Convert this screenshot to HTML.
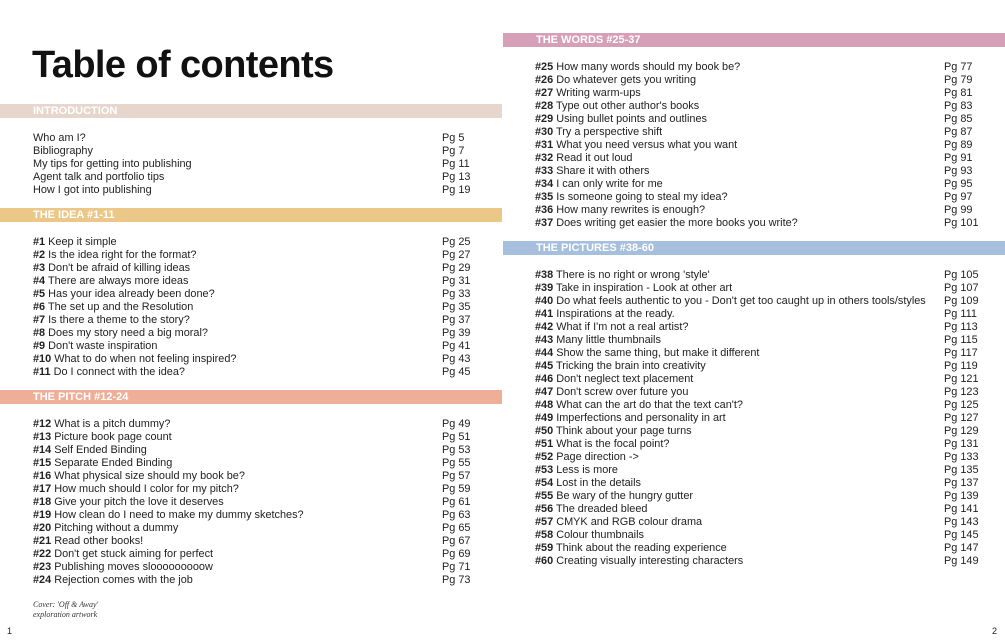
<!DOCTYPE html>
<html><head><meta charset="utf-8"><style>
body{margin:0;width:1005px;height:642px;background:#fff;position:relative;overflow:hidden;font-family:"Liberation Sans",sans-serif;color:#222}
.bar{position:absolute;height:14px;color:#fff;font-weight:bold;font-size:11px;line-height:15px;padding-left:33px;box-sizing:border-box}
.list{position:absolute;font-size:10.9px;line-height:13px;margin:0;padding:0;list-style:none}
.list li{position:relative;white-space:nowrap}
.list li span.pg{position:absolute}
h1{position:absolute;left:32px;top:41px;margin:0;font-size:38px;font-weight:bold;line-height:48px;color:#111;letter-spacing:-0.6px}
b{font-weight:bold}
</style></head><body>
<h1>Table of contents</h1>
<div class="bar" style="left:0;top:104px;width:502px;background:#e6d6cc">INTRODUCTION</div>
<div class="bar" style="left:0;top:208px;width:502px;background:#ebc887">THE IDEA #1-11</div>
<div class="bar" style="left:0;top:390px;width:502px;background:#efae98">THE PITCH #12-24</div>
<div class="bar" style="left:503px;top:33px;width:502px;background:#d59fb8">THE WORDS #25-37</div>
<div class="bar" style="left:503px;top:241px;width:502px;background:#a6bfdc">THE PICTURES #38-60</div>

<div id="c"></div>
<div style="position:absolute;left:33px;top:600px;font-family:'Liberation Serif',serif;font-style:italic;font-size:8px;line-height:10px;color:#333">Cover: 'Off &amp; Away'<br>exploration artwork</div>
<div style="position:absolute;left:7px;top:626px;font-size:9px">1</div>
<div style="position:absolute;left:992px;top:626px;font-size:9px">2</div>
<script>
const sections=[
 {x:33,pgx:409,y:132,items:[["","Who am I?",5],["","Bibliography",7],["","My tips for getting into publishing",11],["","Agent talk and portfolio tips",13],["","How I got into publishing",19]]},
 {x:33,pgx:409,y:236,items:[["#1","Keep it simple",25],["#2","Is the idea right for the format?",27],["#3","Don't be afraid of killing ideas",29],["#4","There are always more ideas",31],["#5","Has your idea already been done?",33],["#6","The set up and the Resolution",35],["#7","Is there a theme to the story?",37],["#8","Does my story need a big moral?",39],["#9","Don't waste inspiration",41],["#10","What to do when not feeling inspired?",43],["#11","Do I connect with the idea?",45]]},
 {x:33,pgx:409,y:418,items:[["#12","What is a pitch dummy?",49],["#13","Picture book page count",51],["#14","Self Ended Binding",53],["#15","Separate Ended Binding",55],["#16","What physical size should my book be?",57],["#17","How much should I color for my pitch?",59],["#18","Give your pitch the love it deserves",61],["#19","How clean do I need to make my dummy sketches?",63],["#20","Pitching without a dummy",65],["#21","Read other books!",67],["#22","Don't get stuck aiming for perfect",69],["#23","Publishing moves slooooooooow",71],["#24","Rejection comes with the job",73]]},
 {x:535,pgx:409,y:61,items:[["#25","How many words should my book be?",77],["#26","Do whatever gets you writing",79],["#27","Writing warm-ups",81],["#28","Type out other author's books",83],["#29","Using bullet points and outlines",85],["#30","Try a perspective shift",87],["#31","What you need versus what you want",89],["#32","Read it out loud",91],["#33","Share it with others",93],["#34","I can only write for me",95],["#35","Is someone going to steal my idea?",97],["#36","How many rewrites is enough?",99],["#37","Does writing get easier the more books you write?",101]]},
 {x:535,pgx:409,y:269,items:[["#38","There is no right or wrong 'style'",105],["#39","Take in inspiration - Look at other art",107],["#40","Do what feels authentic to you - Don't get too caught up in others tools/styles",109],["#41","Inspirations at the ready.",111],["#42","What if I'm not a real artist?",113],["#43","Many little thumbnails",115],["#44","Show the same thing, but make it different",117],["#45","Tricking the brain into creativity",119],["#46","Don't neglect text placement",121],["#47","Don't screw over future you",123],["#48","What can the art do that the text can't?",125],["#49","Imperfections and personality in art",127],["#50","Think about your page turns",129],["#51","What is the focal point?",131],["#52","Page direction ->",133],["#53","Less is more",135],["#54","Lost in the details",137],["#55","Be wary of the hungry gutter",139],["#56","The dreaded bleed",141],["#57","CMYK and RGB colour drama",143],["#58","Colour thumbnails",145],["#59","Think about the reading experience",147],["#60","Creating visually interesting characters",149]]}
];
const c=document.getElementById('c');
sections.forEach((s,i)=>{
 const ul=document.createElement('ul');
 ul.className='list';
 
 
 ul.style.left=s.x+'px';ul.style.top=s.y+'px';
 s.items.forEach(it=>{
  const li=document.createElement('li');
  
  
  li.innerHTML=(it[0]?'<b>'+it[0]+'</b> ':'')+it[1]+'<span class="pg" style="left:'+s.pgx+'px">Pg '+it[2]+'</span>';
  ul.appendChild(li);
 });
 c.appendChild(ul);
});
</script>
</body></html>
